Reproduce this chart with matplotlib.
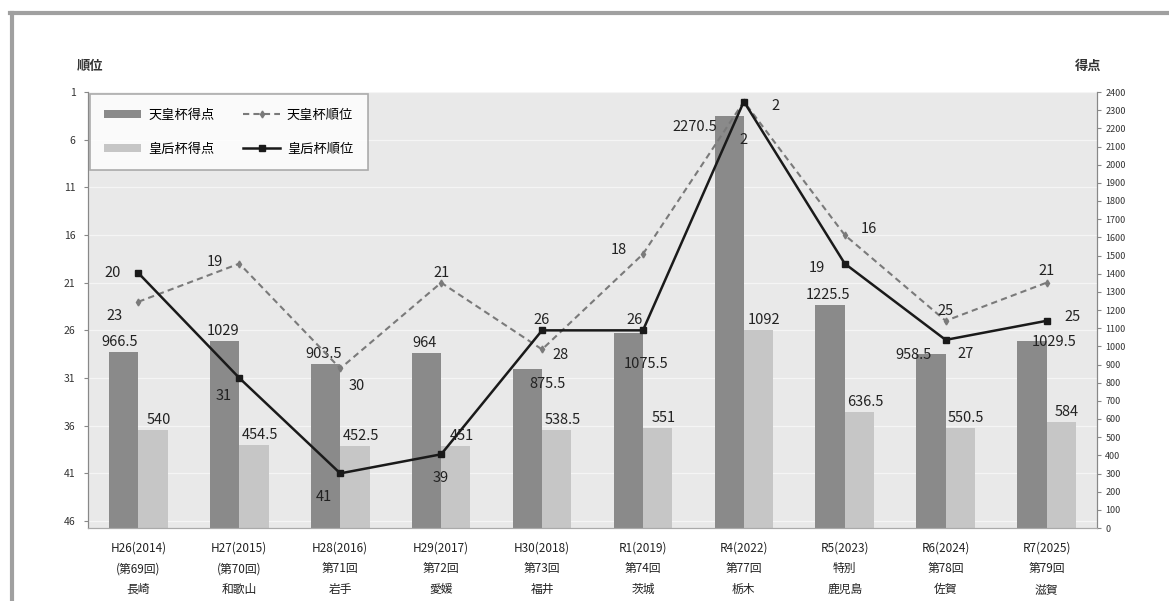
import matplotlib
matplotlib.use("Agg")
import matplotlib.pyplot as plt
from matplotlib.lines import Line2D
import numpy as np

plt.rcParams['font.family'] = ['Noto Sans CJK JP', 'DejaVu Sans']

# ---- data ----
categories = [
    "H26(2014)\n(第69回)\n長崎",
    "H27(2015)\n(第70回)\n和歌山",
    "H28(2016)\n第71回\n岩手",
    "H29(2017)\n第72回\n愛媛",
    "H30(2018)\n第73回\n福井",
    "R1(2019)\n第74回\n茨城",
    "R4(2022)\n第77回\n栃木",
    "R5(2023)\n特別\n鹿児島",
    "R6(2024)\n第78回\n佐賀",
    "R7(2025)\n第79回\n滋賀",
]
emperor_score = [966.5, 1029, 903.5, 964, 875.5, 1075.5, 2270.5, 1225.5, 958.5, 1029.5]
empress_score = [540, 454.5, 452.5, 451, 538.5, 551, 1092, 636.5, 550.5, 584]
emperor_rank = [23, 19, 30, 21, 28, 18, 2, 16, 25, 21]
empress_rank = [20, 31, 41, 39, 26, 26, 2, 19, 27, 25]
rank_ticks = [1, 6, 11, 16, 21, 26, 31, 36, 41, 46]
score_ticks = list(range(0, 2401, 100))

# ---- label offsets (pixels) ----
emp_score_off = [(-4, 3), (-2, 3), (-2, 3), (-2, 3), (20, -22), (18, -38), (-34, -18), (-2, 3), (-18, -8), (22, -8)]
empr_score_off = [(6, 3), (6, 3), (6, 3), (6, 3), (6, 3), (6, 3), (6, 3), (6, 3), (6, 3), (6, 3)]
emp_rank_off = [(-24, -14), (-24, 2), (16, -18), (0, 10), (18, -6), (-24, 4), (0, -38), (24, 6), (0, 10), (0, 12)]
empr_rank_off = [(-26, 0), (-16, -18), (-16, -24), (0, -24), (0, 10), (-8, 10), (32, -4), (-28, -4), (20, -14), (26, 4)]

RANK_LIM = (46.73, 1)

dpi = 100
fig = plt.figure(figsize=(11.69, 6.01), dpi=dpi)
fig.patch.set_facecolor('white')

# outer frame lines
fig.add_artist(Line2D([10 / 1169, 1.0], [1 - 13 / 601, 1 - 13 / 601], transform=fig.transFigure,
                      color='#a0a0a0', lw=3))
fig.add_artist(Line2D([12 / 1169, 12 / 1169], [0, 1 - 13 / 601], transform=fig.transFigure,
                      color='#a0a0a0', lw=3))

ax = fig.add_axes([88 / 1169, 1 - 528 / 601, (1097 - 88) / 1169, (528 - 92) / 601])
ax2 = ax.twinx()
ax.set_facecolor('#e9e9e9')

# faint gridlines at rank ticks (drawn beneath the bars)
for r in rank_ticks:
    frac = (RANK_LIM[0] - r) / (RANK_LIM[0] - RANK_LIM[1])
    ax.add_line(Line2D([0, 1], [frac, frac], transform=ax.transAxes, color='#f5f5f5', lw=0.9, zorder=1))

x = np.arange(len(categories))
w = 0.29
b1 = ax.bar(x - w / 2, emperor_score, width=w, color='#8a8a8a', label='天皇杯得点', zorder=2)
b2 = ax.bar(x + w / 2, empress_score, width=w, color='#c6c6c6', label='皇后杯得点', zorder=2)
ax.set_ylim(0, 2400)
ax.set_xlim(-0.5, len(categories) - 0.5)
ax.yaxis.tick_right()
ax.yaxis.set_label_position('right')
ax.set_yticks(score_ticks)
ax.tick_params(axis='y', labelsize=6.5, length=3, color='#888888', labelcolor='#333333', pad=3)
ax.set_xticks(x)
ax.set_xticklabels(categories, fontsize=8.5, linespacing=1.75, color='#222222')
ax.tick_params(axis='x', length=0, pad=10)

# rank axis on left
ax2.yaxis.tick_left()
ax2.yaxis.set_label_position('left')
ax2.set_ylim(*RANK_LIM)
ax2.set_yticks(rank_ticks)
ax2.tick_params(axis='y', labelsize=7.5, length=3, color='#888888', labelcolor='#333333', pad=6)

l1, = ax2.plot(x, emperor_rank, color='#7a7a7a', lw=1.5, ls=(0, (3, 2)), marker='d', ms=3.5,
               label='天皇杯順位', zorder=3)
l2, = ax2.plot(x, empress_rank, color='#1a1a1a', lw=1.8, marker='s', ms=5,
               label='皇后杯順位', zorder=4)

for a in (ax, ax2):
    a.spines['top'].set_visible(False)
    a.spines['left'].set_color('#888888')
    a.spines['right'].set_color('#888888')
    a.spines['bottom'].set_color('#aaaaaa')

fs = 10.5
for i in range(len(categories)):
    ax.annotate(f"{emperor_score[i]:g}", (x[i] - w / 2, emperor_score[i]),
                xytext=emp_score_off[i], textcoords='offset pixels', ha='center', va='bottom',
                fontsize=fs, color='#222222', zorder=5)
    ax.annotate(f"{empress_score[i]:g}", (x[i] + w / 2, empress_score[i]),
                xytext=empr_score_off[i], textcoords='offset pixels', ha='center', va='bottom',
                fontsize=fs, color='#222222', zorder=5)
    ax2.annotate(f"{emperor_rank[i]}", (x[i], emperor_rank[i]),
                 xytext=emp_rank_off[i], textcoords='offset pixels', ha='center', va='center',
                 fontsize=fs, color='#222222', zorder=5)
    ax2.annotate(f"{empress_rank[i]}", (x[i], empress_rank[i]),
                 xytext=empr_rank_off[i], textcoords='offset pixels', ha='center', va='center',
                 fontsize=fs, color='#222222', zorder=5)

leg = ax2.legend(handles=[b1, b2, l1, l2], ncol=2, loc='upper left', bbox_to_anchor=(0.0, 1.0),
                 borderaxespad=0.15,
                 fontsize=9.5, frameon=True, fancybox=False, edgecolor='#999999',
                 borderpad=1.1, labelspacing=1.6, columnspacing=2.2, handlelength=2.8,
                 handleheight=0.5, handletextpad=0.5)
leg.get_frame().set_linewidth(1.2)
leg.set_zorder(10)

fig.text(90 / 1169, 1 - 66 / 601, '順位', fontsize=9.5, weight='bold', ha='center', va='center', color='#333333')
fig.text(1088 / 1169, 1 - 66 / 601, '得点', fontsize=9.5, weight='bold', ha='center', va='center', color='#333333')

fig.savefig('out.png', dpi=dpi)
